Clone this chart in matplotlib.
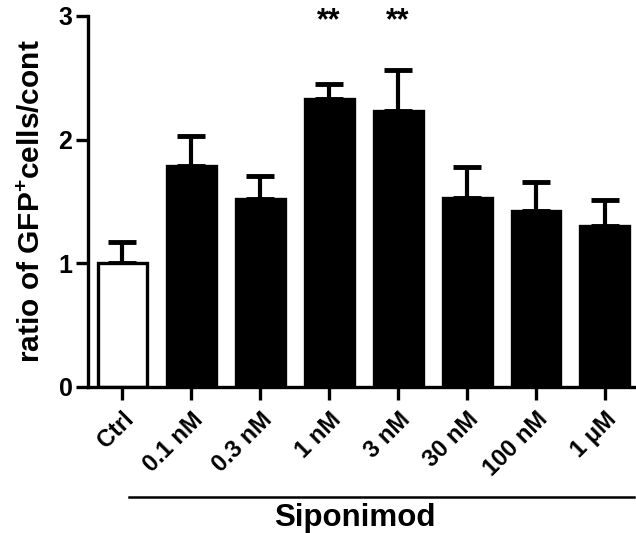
import matplotlib
matplotlib.use("Agg")
from matplotlib import pyplot as plt
import numpy as np

plt.rcParams['font.family'] = ['Liberation Sans', 'DejaVu Sans']
plt.rcParams['font.weight'] = 'bold'
plt.rcParams['mathtext.fontset'] = 'custom'
plt.rcParams['mathtext.bf'] = 'Liberation Sans:bold'
plt.rcParams['mathtext.rm'] = 'Liberation Sans:bold'
plt.rcParams['mathtext.default'] = 'bf'

labels = ["Ctrl", "0.1 nM", "0.3 nM", "1 nM", "3 nM", "30 nM", "100 nM", "1 μM"]
means = [1.00, 1.79, 1.52, 2.33, 2.23, 1.53, 1.42, 1.30]
err_upper = [0.17, 0.24, 0.19, 0.12, 0.33, 0.25, 0.24, 0.21]
stars = {3: "**", 4: "**"}

x = np.arange(len(labels))
colors = ["white"] + ["black"] * (len(labels) - 1)

fig = plt.figure(figsize=(6.36, 5.33), dpi=100)
ax = fig.add_axes([0.138, 0.274, 0.862, 0.696])

ax.bar(x, means, width=0.71, color=colors, edgecolor="black", linewidth=2.4, zorder=2)
ax.errorbar(x, means, yerr=[np.zeros(len(means)), err_upper], fmt="none",
            ecolor="black", elinewidth=3, capsize=10, capthick=3.5, zorder=1)

for i, s in stars.items():
    ax.text(x[i], 2.96, s, ha="center", va="center", fontsize=22, fontweight="bold")

ax.set_xlim(-0.5, 7.45)
ax.set_ylim(0, 3)
ax.set_yticks([0, 1, 2, 3])
ax.set_xticks(x)
ax.set_xticklabels(labels, rotation=45, ha="right", rotation_mode="anchor", fontsize=17)
ax.tick_params(axis="both", width=2.4, length=9, labelsize=18, pad=2)
ax.tick_params(axis="x", labelsize=17, pad=6)
ax.set_ylabel(r"ratio of GFP$^{+}$cells/cont", fontsize=21.5, fontweight="bold", labelpad=9)

for side in ["top", "right"]:
    ax.spines[side].set_visible(False)
for side in ["left", "bottom"]:
    ax.spines[side].set_linewidth(2.4)

# Siponimod group bar below tick labels
fig.add_artist(plt.Line2D([129 / 636, 634 / 636], [1 - 497 / 533, 1 - 497 / 533],
                          color="black", linewidth=1.8, transform=fig.transFigure))
fig.text(355 / 636, 1 - 518 / 533, "Siponimod", ha="center", va="center",
         fontsize=22.5, fontweight="bold")

fig.savefig("out.png", dpi=100)
